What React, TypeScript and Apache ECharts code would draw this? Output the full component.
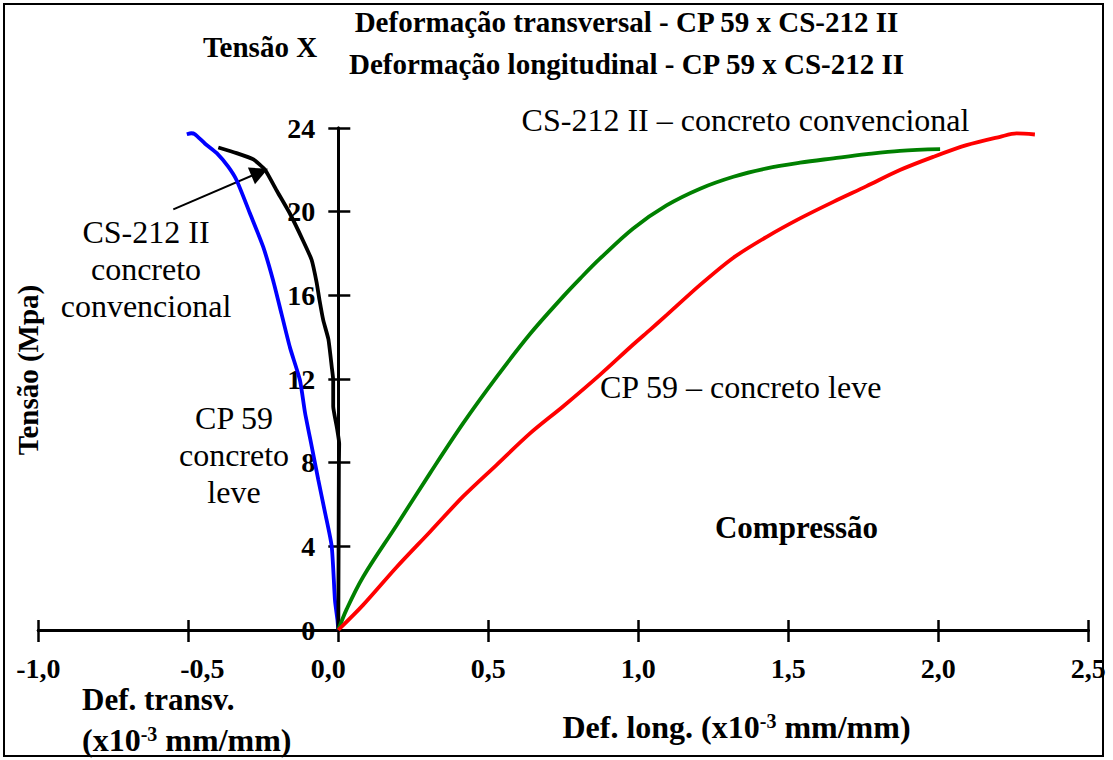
import React, { useEffect, useRef } from "react";
import * as echarts from "echarts";

// CP 59 – concreto leve, deformação transversal (blue)
const cp59Transv: number[][] = [
  [0, 0], [-0.003, 0.5], [-0.011, 1.4], [-0.022, 4.0], [-0.044, 5.6], [-0.067, 7.2],
  [-0.089, 8.8], [-0.111, 10.4], [-0.128, 11.95], [-0.161, 13.5], [-0.189, 15.1],
  [-0.217, 16.7], [-0.25, 18.3], [-0.294, 19.9], [-0.339, 21.5], [-0.367, 22.15],
  [-0.405, 22.8], [-0.444, 23.25], [-0.478, 23.7], [-0.49, 23.75], [-0.505, 23.7],
];

// CS-212 II – concreto convencional, deformação transversal (black)
const cs212Transv: number[][] = [
  [0, 0], [0.001, 4], [0.002, 8], [0.003, 8.9], [-0.005, 9.7], [-0.017, 10.7],
  [-0.017, 11.95], [-0.022, 12.6], [-0.033, 13.9], [-0.05, 14.8], [-0.063, 15.8],
  [-0.072, 16.6], [-0.089, 17.7], [-0.117, 18.6], [-0.161, 19.9], [-0.205, 21.0],
  [-0.244, 22.0], [-0.283, 22.5], [-0.339, 22.8], [-0.4, 23.07],
];

// CS-212 II – concreto convencional, deformação longitudinal (green)
const cs212Long: number[][] = [
  [0, 0], [0.028, 1.0], [0.083, 2.55], [0.194, 5.0], [0.306, 7.5], [0.417, 9.9],
  [0.528, 12.1], [0.639, 14.15], [0.75, 15.95], [0.806, 16.8], [0.872, 17.75],
  [0.983, 19.2], [1.094, 20.3], [1.206, 21.1], [1.317, 21.67], [1.428, 22.07],
  [1.539, 22.34], [1.65, 22.55], [1.761, 22.75], [1.872, 22.91], [2.006, 22.99],
];

// CP 59 – concreto leve, deformação longitudinal (red)
const cp59Long: number[][] = [
  [0, 0], [0.083, 1.2], [0.194, 3.0], [0.306, 4.7], [0.417, 6.4], [0.528, 7.9],
  [0.639, 9.4], [0.75, 10.7], [0.872, 12.2], [0.983, 13.65], [1.039, 14.35],
  [1.094, 15.05], [1.206, 16.5], [1.317, 17.8], [1.428, 18.8], [1.539, 19.68],
  [1.65, 20.47], [1.761, 21.22], [1.872, 21.99], [1.983, 22.62], [2.094, 23.18],
  [2.206, 23.58], [2.261, 23.74], [2.322, 23.69],
];

// arrow annotation (tail -> head) in data units
const arrowTail = [-0.55, 20.11];
const arrowHead = [-0.262, 21.88];

const xMin = -1;
const xMax = 2.5;
const xStep = 0.5;
const yMin = 0;
const yMax = 24;
const yStep = 4;

const SERIF = '"Liberation Serif", "Times New Roman", serif';

export default function App() {
  const ref = useRef<HTMLDivElement>(null);

  useEffect(() => {
    const chart = echarts.init(ref.current!, null, { renderer: "svg" });

    const bold = (size: number) => ({
      fontFamily: SERIF,
      fontWeight: "bold",
      fontSize: size,
      fill: "#000",
    });
    const normal = (size: number) => ({
      fontFamily: SERIF,
      fontWeight: "normal",
      fontSize: size,
      fill: "#000",
    });

    const axisLineStyle = { color: "#000", width: 3 };
    const tickStyle = { color: "#000", width: 2.5 };
    const labelFont = { fontFamily: SERIF, fontWeight: "bold", fontSize: 28, color: "#000" };
    const xLabelFont = { ...labelFont, lineHeight: 26 };

    const fmtX = (v: number) => {
      const s = v.toFixed(1).replace(".", ",");
      if (Math.abs(v + 0.5) < 1e-9) return "{r|" + s + "}";
      if (Math.abs(v) < 1e-9) return "{l|" + s + "}";
      return "{n|" + s + "}";
    };

    const lineSeries = (name: string, data: number[][], color: string, smooth: number, extra: any = {}) => ({
      name,
      type: "line",
      data,
      xAxisIndex: 0,
      yAxisIndex: 0,
      showSymbol: false,
      symbol: "none",
      smooth,
      clip: false,
      z: 5,
      lineStyle: { color, width: 3.8 },
      emphasis: { disabled: true },
      ...extra,
    });

    const grid = {
      right: 24.7,
      top: 128,
      bottom: 130,
      containLabel: false,
      outerBoundsMode: "none",
    };

    chart.setOption({
      animation: false,
      backgroundColor: "#fff",
      grid: [
        { ...grid, left: 38.3 },
        { ...grid, left: 338.3 },
      ],
      xAxis: [
        {
          type: "value",
          gridIndex: 0,
          min: xMin,
          max: xMax,
          interval: xStep,
          position: "bottom",
          axisLine: { show: true, onZero: true, onZeroAxisIndex: 0, lineStyle: axisLineStyle },
          axisTick: { show: true, inside: false, length: 12, lineStyle: tickStyle },
          axisLabel: {
            show: true,
            margin: 25,
            formatter: fmtX,
            showMinLabel: true,
            showMaxLabel: true,
            rich: {
              n: { ...xLabelFont },
              r: { ...xLabelFont, padding: [0, 0, 0, 28] },
              l: { ...xLabelFont, padding: [0, 20, 0, 0] },
            },
          },
          splitLine: { show: false },
        },
        {
          type: "value",
          gridIndex: 0,
          min: xMin,
          max: xMax,
          interval: xStep,
          position: "top",
          axisLine: { show: true, onZero: true, onZeroAxisIndex: 0, lineStyle: axisLineStyle },
          axisTick: { show: true, inside: false, length: 10, lineStyle: tickStyle },
          axisLabel: { show: false },
          splitLine: { show: false },
        },
        {
          type: "value",
          gridIndex: 1,
          min: 0,
          max: 1,
          show: false,
        },
      ],
      yAxis: [
        {
          type: "value",
          gridIndex: 0,
          min: yMin,
          max: yMax,
          interval: yStep,
          position: "left",
          axisLine: { show: true, onZero: true, onZeroAxisIndex: 0, lineStyle: axisLineStyle },
          axisTick: { show: true, inside: false, length: 10, lineStyle: tickStyle },
          axisLabel: { show: false },
          splitLine: { show: false },
        },
        {
          type: "value",
          gridIndex: 0,
          min: yMin,
          max: yMax,
          interval: yStep,
          position: "right",
          axisLine: { show: true, onZero: true, onZeroAxisIndex: 0, lineStyle: axisLineStyle },
          axisTick: { show: true, inside: false, length: 12, lineStyle: tickStyle },
          axisLabel: { show: false },
          splitLine: { show: false },
        },
        {
          type: "value",
          gridIndex: 1,
          min: yMin,
          max: yMax,
          interval: yStep,
          position: "left",
          axisLine: { show: false },
          axisTick: { show: false },
          axisLabel: { show: true, margin: 23, ...labelFont },
          splitLine: { show: false },
        },
      ],
      series: [
        lineSeries("CP 59 transversal", cp59Transv, "#0000ff", 0.2),
        lineSeries("CS-212 II transversal", cs212Transv, "#000000", 0.15, {
          markLine: {
            silent: true,
            symbol: ["none", "triangle"],
            symbolSize: 18,
            label: { show: false },
            emphasis: { disabled: true },
            lineStyle: { type: "solid", color: "#000", width: 2 },
            data: [[{ coord: arrowTail }, { coord: arrowHead }]],
          },
        }),
        lineSeries("CS-212 II longitudinal", cs212Long, "#008000", 0.35),
        lineSeries("CP 59 longitudinal", cp59Long, "#ff0000", 0.3),
      ],
      graphic: [
        {
          type: "rect",
          silent: true,
          shape: { x: 4, y: 4, width: 1099, height: 752 },
          style: { fill: "none", stroke: "#000", lineWidth: 2 },
        },
        {
          type: "text",
          x: 626.5,
          y: 22,
          style: { text: "Deformação transversal - CP 59 x CS-212 II", ...bold(29), align: "center", verticalAlign: "middle" },
        },
        {
          type: "text",
          x: 626.5,
          y: 64,
          style: { text: "Deformação longitudinal - CP 59 x CS-212 II", ...bold(29), align: "center", verticalAlign: "middle" },
        },
        {
          type: "text",
          x: 260,
          y: 47,
          style: { text: "Tensão X", ...bold(29), align: "center", verticalAlign: "middle" },
        },
        {
          type: "text",
          x: 28,
          y: 370,
          rotation: Math.PI / 2,
          style: { text: "Tensão (Mpa)", ...bold(29), align: "center", verticalAlign: "middle" },
        },
        {
          type: "text",
          x: 745.5,
          y: 120,
          style: { text: "CS-212 II – concreto convencional", ...normal(32), align: "center", verticalAlign: "middle" },
        },
        {
          type: "text",
          x: 600,
          y: 387,
          style: { text: "CP 59 – concreto leve", ...normal(32), align: "left", verticalAlign: "middle" },
        },
        {
          type: "text",
          x: 146,
          y: 269,
          style: { text: "CS-212 II\nconcreto\nconvencional", ...normal(32), lineHeight: 37, align: "center", verticalAlign: "middle" },
        },
        {
          type: "text",
          x: 234,
          y: 455,
          style: { text: "CP 59\nconcreto\nleve", ...normal(32), lineHeight: 37, align: "center", verticalAlign: "middle" },
        },
        {
          type: "text",
          x: 796.5,
          y: 527,
          style: { text: "Compressão", ...bold(31), align: "center", verticalAlign: "middle" },
        },
        {
          type: "text",
          x: 82,
          y: 699,
          style: { text: "Def. transv.", ...bold(31), lineHeight: 30, align: "left", verticalAlign: "middle" },
        },
        {
          type: "text",
          x: 82,
          y: 740,
          style: {
            text: "{b|(x10}{s|-3}{b| mm/mm)}",
            align: "left",
            verticalAlign: "middle",
            rich: {
              b: { fontFamily: SERIF, fontWeight: "bold", fontSize: 32, lineHeight: 32, fill: "#000" },
              s: { fontFamily: SERIF, fontWeight: "bold", fontSize: 20, lineHeight: 32, verticalAlign: "top", fill: "#000" },
            },
          },
        },
        {
          type: "text",
          x: 736.5,
          y: 727,
          style: {
            text: "{b|Def. long. (x10}{s|-3}{b| mm/mm)}",
            align: "center",
            verticalAlign: "middle",
            rich: {
              b: { fontFamily: SERIF, fontWeight: "bold", fontSize: 32, lineHeight: 32, fill: "#000" },
              s: { fontFamily: SERIF, fontWeight: "bold", fontSize: 20, lineHeight: 32, verticalAlign: "top", fill: "#000" },
            },
          },
        },
      ],
    });

    return () => chart.dispose();
  }, []);

  return (
    <div
      ref={ref}
      style={{ position: "absolute", left: 0, top: 0, width: 1113, height: 760 }}
    />
  );
}
